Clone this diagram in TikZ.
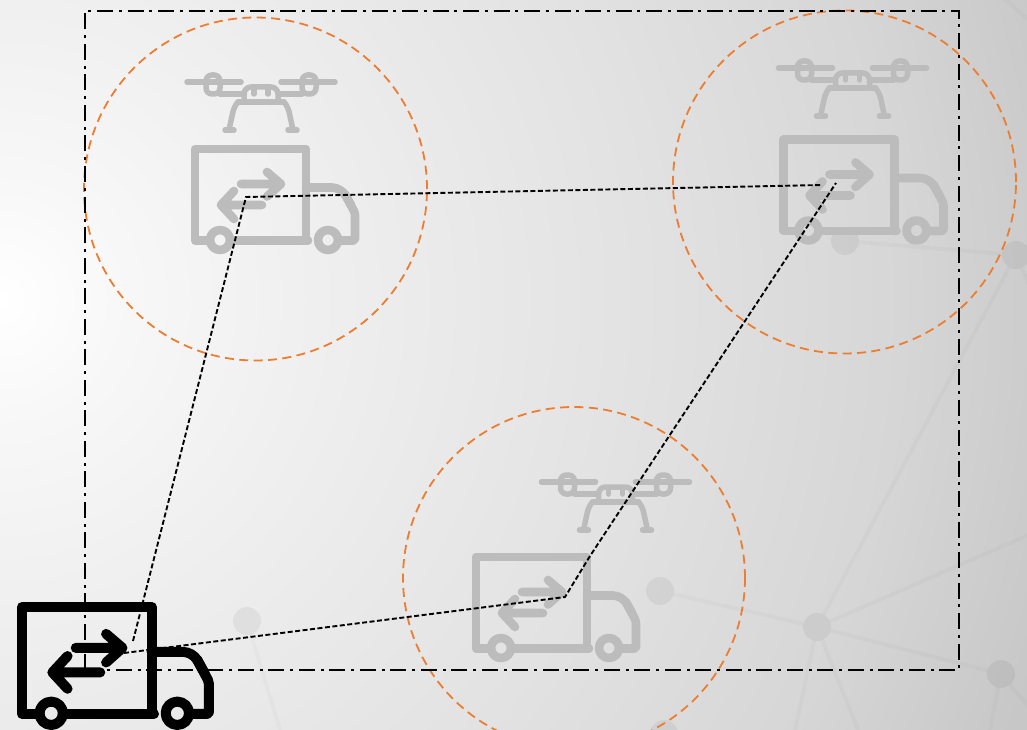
\documentclass[tikz,border=0pt]{standalone}
\pgfdeclareradialshading{bgshade}{\pgfpoint{0bp}{0bp}}{color(0bp)=(white); color(2.5bp)=(white!97!black); color(6bp)=(white!94!black); color(13bp)=(white!88.5!black); color(18bp)=(white!84!black); color(22bp)=(white!78!black); color(50bp)=(white!70!black)}
\definecolor{icongrey}{HTML}{BCBCBC}
\definecolor{ringorange}{HTML}{ED7D31}
\tikzset{
  iconline/.style={line cap=round,line join=round},
  ring/.style={draw=ringorange,line width=1.8pt,dash pattern=on 9pt off 5.4pt},
  area/.style={draw=black,line width=1.9pt,dash pattern=on 16pt off 5.5pt on 3pt off 6pt},
  link/.style={draw=black,line width=1.9pt,dash pattern=on 5pt off 2.5pt},
  netline/.style={draw=black,draw opacity=0.018,line width=4pt},
  netdot/.style={circle,fill=black,fill opacity=0.05,minimum size=28pt,inner sep=0pt,outer sep=0pt},
}
\newcommand{\TruckIcon}[5]{%
  \begin{scope}[shift={(#1,#2)},scale=#3,iconline,draw=#4,line width=#5]
    \draw (15,91.5) -- (0,91.5) -- (0,0) -- (111,0) -- (111,91.5);
    \draw (35,91.5) -- (113,91.5);
    \draw[rounded corners=2pt] (143,91.5) -- (160,91.5) -- (160,64) -- (150,45);
    \draw[rounded corners=9pt] (111,38.5) -- (146,38.5) -- (156,56);
    \draw (25,91) circle[radius=10];
    \draw (133,91) circle[radius=10];
    \draw (46,35) -- (86,35) (72,23) -- (86,35) -- (72,47.5);
    \draw (67,56) -- (26,56) (39,42) -- (26,56) -- (39,70);
  \end{scope}}
\newcommand{\DroneIcon}[3]{%
  \begin{scope}[shift={(#1,#2)},iconline,draw=#3,line width=5.5pt]
    \draw (-74,0) -- (-20,0) (74,0) -- (20,0);
    \draw[rounded corners=6pt] (-55,0) -- (-55,-7) -- (-41,-7) -- (-41,12) -- (-55,12) -- (-55,0);
    \draw[rounded corners=6pt] (55,0) -- (55,-7) -- (41,-7) -- (41,12) -- (55,12) -- (55,0);
    \draw (-41,12) -- (-18,12) (41,12) -- (18,12);
    \draw[rounded corners=7pt] (-17,20) -- (-17,5) -- (17,5) -- (17,20);
    \draw (-23,20) -- (23,20);
    \draw (-7,6) -- (-7,12) (7,6) -- (7,12);
    \draw[rounded corners=5pt] (-23,20) -- (-27,25) -- (-32,48);
    \draw[rounded corners=5pt] (23,20) -- (27,25) -- (32,48);
    \draw (-36,48) -- (-27,48) (36,48) -- (27,48);
  \end{scope}}
\begin{document}
\begin{tikzpicture}[x=1pt,y=-1pt]
\useasboundingbox (0,0) rectangle (1027,730);
\begin{scope}
  \clip (0,0) rectangle (1027,730);
  \shade[shading=bgshade] (-1250,-950) rectangle (1250,1550);
  \node[netdot] (n1) at (845,241) {};
  \node[netdot] (n2) at (1016,255) {};
  \node[netdot] (n3) at (660,591) {};
  \node[netdot] (n4) at (817,627) {};
  \node[netdot] (n5) at (1001,674) {};
  \node[netdot] (n6) at (247,621) {};
  \node[netdot] (n7) at (664,734) {};
  \coordinate (e1) at (1040,530);
  \coordinate (e2) at (793,740);
  \coordinate (e3) at (862,740);
  \coordinate (e4) at (988,740);
  \coordinate (e5) at (1040,720);
  \coordinate (e6) at (1040,310);
  \coordinate (e7) at (1040,0);
  \coordinate (e8) at (1000,-5);
  \coordinate (e9) at (283,740);
  \draw[netline] (n1) -- (n2);
  \draw[netline] (n3) -- (n4);
  \draw[netline] (n4) -- (n5);
  \draw[netline] (n4) -- (n2);
  \draw[netline] (n4) -- (e1);
  \draw[netline] (n4) -- (e2);
  \draw[netline] (n4) -- (e3);
  \draw[netline] (n5) -- (e4);
  \draw[netline] (n5) -- (e5);
  \draw[netline] (n2) -- (e6);
  \draw[netline] (e8) -- (e7 |- 0,30);
  \draw[netline] (n6) -- (e9);
\end{scope}
\TruckIcon{195}{149}{1}{icongrey}{8.6pt}
\TruckIcon{783.5}{139.5}{1}{icongrey}{8.6pt}
\TruckIcon{476}{557}{1}{icongrey}{8.6pt}
\DroneIcon{261}{82}{icongrey}
\DroneIcon{852.5}{68}{icongrey}
\DroneIcon{615.5}{482}{icongrey}
\node[ring,circle,minimum size=343pt,inner sep=0pt] (c1) at (255.5,189) {};
\node[ring,circle,minimum size=343pt,inner sep=0pt] (c2) at (844.5,182) {};
\begin{scope}
  \clip (0,0) rectangle (1027,730);
  \node[ring,circle,minimum size=342pt,inner sep=0pt] (c3) at (574,578) {};
\end{scope}
\coordinate (ra) at (85,670);
\coordinate (rb) at (85,11);
\coordinate (rc) at (959,11);
\coordinate (rd) at (959,670);
\draw[area] (ra) -- (rb) -- (rc) -- (rd) -- cycle;
\coordinate (s1) at (133,641);
\coordinate (s2) at (124,653);
\coordinate (k1) at (246,197);
\coordinate (k2) at (822,185);
\coordinate (k3) at (565,597);
\coordinate (k4) at (590,556);
\coordinate (k5) at (836,183);
\draw[link] (s1) -- (k1) -- (k2);
\draw[link] (s2) -- (k3) -- (k4) -- (k5);
\TruckIcon{22}{607}{1.168}{black}{10pt}
\end{tikzpicture}
\end{document}
